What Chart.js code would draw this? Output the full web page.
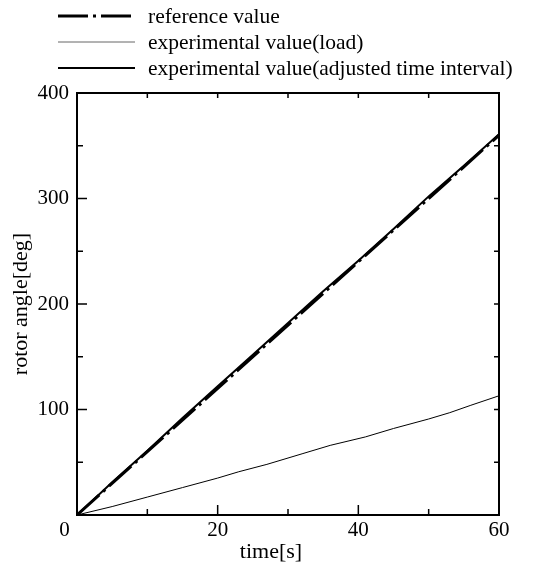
<!DOCTYPE html>
<html>
<head>
<meta charset="utf-8">
<script src="https://cdn.jsdelivr.net/npm/chart.js@4/dist/chart.umd.min.js"></script>
<style>
  html, body { margin: 0; padding: 0; background: #fff; }
  #wrap { width: 542px; height: 571px; }
</style>
</head>
<body>
<div id="wrap"><canvas id="c" width="542" height="571"></canvas></div>
<script>
// time axis [s]
var timeRef = [0, 60];
var angleRef = [0, 360];

var timeAdj = [0, 5, 10, 15, 20, 25, 30, 35, 40, 45, 50, 55, 60];
var angleAdj = [0, 31, 61, 92, 122, 152, 182, 212, 241, 271, 302, 331, 361];

var timeLoad = [0, 5, 10, 15, 20, 23, 27, 32, 36, 41, 45, 50, 53, 56, 60];
var angleLoad = [0, 8, 17, 26, 35, 41, 48, 58, 66, 74, 82, 91, 97, 104, 113];

var xTicks = [0, 20, 40, 60];
var yTicks = [100, 200, 300, 400];
var legendLabels = ['reference value', 'experimental value(load)', 'experimental value(adjusted time interval)'];

function pts(xs, ys) {
    return xs.map(function (x, i) { return { x: x, y: ys[i] }; });
}

var FONT = 'Liberation Serif';

// frame, inward tick marks, x title and legend
var decor = {
    id: 'decor',
    afterDraw: function (chart) {
        var ctx = chart.ctx, a = chart.chartArea;
        var xs = chart.scales.x, ys = chart.scales.y;
        ctx.save();
        ctx.strokeStyle = '#000';
        ctx.lineWidth = 2;
        ctx.strokeRect(a.left, a.top, a.right - a.left, a.bottom - a.top);

        ctx.lineWidth = 1.5;
        ctx.beginPath();
        for (var t = 10; t < 60; t += 10) {
            var px = xs.getPixelForValue(t);
            var len = (t % 20 === 0) ? 10 : 6;
            ctx.moveTo(px, a.bottom); ctx.lineTo(px, a.bottom - len);
            ctx.moveTo(px, a.top); ctx.lineTo(px, a.top + 5);
        }
        for (var v = 50; v < 400; v += 50) {
            var py = ys.getPixelForValue(v);
            var l2 = (v % 100 === 0) ? 10 : 6;
            ctx.moveTo(a.left, py); ctx.lineTo(a.left + l2, py);
            ctx.moveTo(a.right, py); ctx.lineTo(a.right - 5, py);
        }
        ctx.stroke();

        ctx.fillStyle = '#000';
        ctx.font = '22px "' + FONT + '"';
        ctx.textAlign = 'center';
        ctx.textBaseline = 'middle';
        ctx.fillText('time[s]', chart.width / 2, 552);

        // legend
        ctx.font = '21.5px "' + FONT + '"';
        ctx.textAlign = 'left';
        var rows = [16, 42, 68];
        rows.forEach(function (ry, i) {
            var ds = chart.data.datasets[i];
            ctx.beginPath();
            ctx.setLineDash(ds.borderDash || []);
            ctx.lineWidth = ds.borderWidth;
            ctx.strokeStyle = ds.legendColor || ds.borderColor;
            ctx.moveTo(58, ry); ctx.lineTo(135, ry);
            ctx.stroke();
            ctx.setLineDash([]);
            ctx.fillText(legendLabels[i], 148, ry + 1);
        });
        ctx.restore();
    }
};

new Chart(document.getElementById('c'), {
    type: 'line',
    data: {
        datasets: [
            { label: legendLabels[0], data: pts(timeRef, angleRef), borderColor: '#000', borderWidth: 3, borderDash: [30, 5, 3, 5], pointRadius: 0 },
            { label: legendLabels[1], data: pts(timeLoad, angleLoad), borderColor: '#000', legendColor: '#666', borderWidth: 1, pointRadius: 0 },
            { label: legendLabels[2], data: pts(timeAdj, angleAdj), borderColor: '#000', borderWidth: 2, pointRadius: 0 }
        ]
    },
    options: {
        responsive: false,
        animation: false,
        layout: { padding: { left: 0, top: 93, right: 43, bottom: 0 } },
        plugins: { legend: { display: false }, tooltip: { enabled: false } },
        scales: {
            x: {
                type: 'linear', min: 0, max: 60,
                grid: { display: false, drawTicks: false },
                border: { display: false },
                afterFit: function (s) { s.height = 56; },
                afterBuildTicks: function (s) { s.ticks = xTicks.map(function (v) { return { value: v }; }); },
                ticks: {
                    color: '#000', padding: 3, font: { family: FONT, size: 21 }, maxRotation: 0,
                    // keep the 0 clear of the y axis
                    callback: function (v) { return v === 0 ? '0\u2007\u2007\u2009' : String(v); }
                }
            },
            y: {
                min: 0, max: 400,
                grid: { display: false, drawTicks: false },
                border: { display: false },
                afterFit: function (s) { s.width = 77; },
                afterBuildTicks: function (s) { s.ticks = yTicks.map(function (v) { return { value: v }; }); },
                ticks: { color: '#000', padding: 8, font: { family: FONT, size: 21 } },
                title: { display: true, text: 'rotor angle[deg]', color: '#000', padding: { top: 8, bottom: 0 }, font: { family: FONT, size: 22 } }
            }
        }
    },
    plugins: [decor]
});
</script>
</body>
</html>
